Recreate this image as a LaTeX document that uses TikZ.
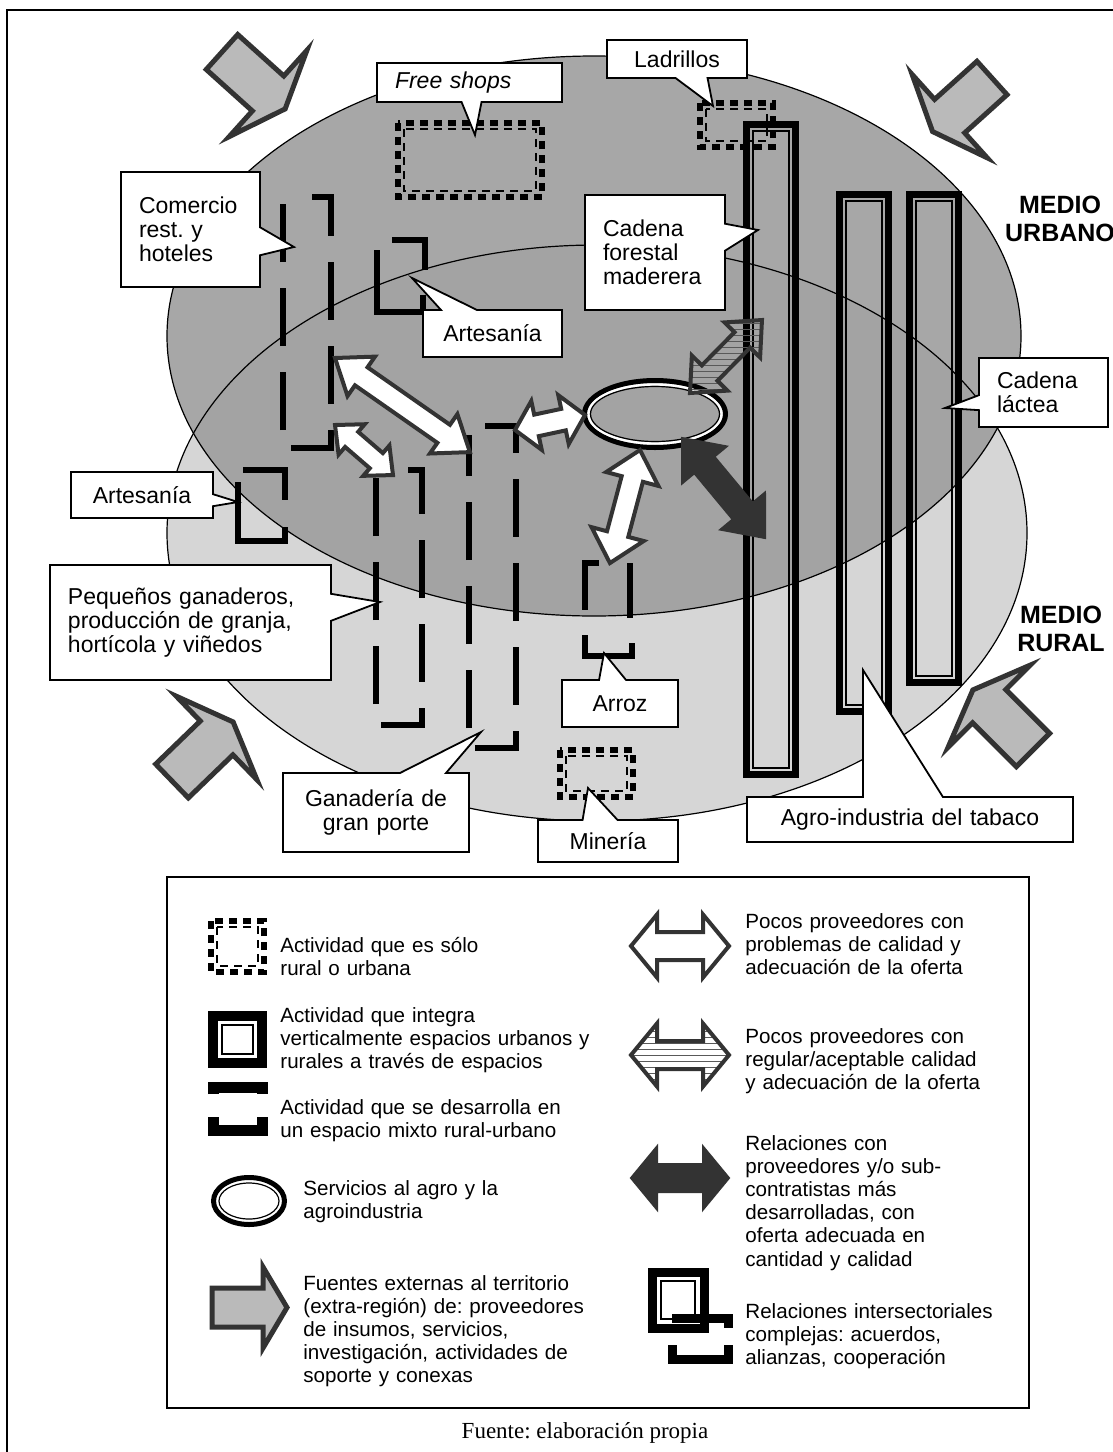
\documentclass[tikz,border=0pt]{standalone}
\usepackage{fontspec}
\setmainfont{Liberation Sans}
\newfontfamily\sourcefont{Liberation Serif}
\usetikzlibrary{shapes.callouts,patterns,positioning}
\tikzset{>=stealth}
\frenchspacing
\colorlet{urbfill}{black!38}
\colorlet{rurfill}{black!16}
\colorlet{arrline}{black!80}
\colorlet{extfill}{black!27}
\newcommand\lblfont{\fontsize{11.5}{12}\selectfont}
\newcommand\legfont{\fontsize{10.3}{11.6}\selectfont}
% activity symbols
\newcommand\ruralurb[4]{%
  \draw[rurb] (#1+3,#2+3) rectangle (#3-3,#4-3);
  \draw[rurbin] (#1+9,#2+9) rectangle (#3-9,#4-9);}
\newcommand\vinteg[4]{%
  \draw[vint] (#1+3.5,#2+3.5) rectangle (#3-3.5,#4-3.5);
  \draw[vintin] (#1+10,#2+10) rectangle (#3-10,#4-10);}
\tikzset{
  lbl/.style={rectangle callout, draw, fill=white, line width=0.9pt, inner xsep=9pt, inner ysep=0pt, align=left, font=\lblfont},
  medio/.style={font=\fontsize{12.5}{14}\selectfont\bfseries, align=center, inner sep=0pt},
  legtxt/.style={anchor=base west, inner sep=0pt, align=left, text width=170pt, font=\legfont},
  zone/.style={line width=0.6pt},
  rurb/.style={line width=3pt, dash pattern=on 4pt off 3pt},
  rurbin/.style={line width=0.6pt, dash pattern=on 4pt off 3pt},
  vint/.style={line width=3.5pt},
  vintin/.style={line width=0.6pt},
  mixd/.style={line width=3.2pt, dash pattern=on 29pt off 13pt},
  mixdsolid/.style={line width=3.2pt},
  extarrow/.style={draw=arrline, fill=extfill, line width=2.5pt, line join=miter},
  whitearr/.style={draw=arrline, fill=white, line width=2pt},
  stripearr/.style={draw=arrline, pattern=horizontal lines, pattern color=black!65, line width=2pt},
  darkarr/.style={draw=arrline, fill=arrline, line width=1pt},
  pics/extarr/.style n args={5}{code={
    \path[#5] (0,-#1) -- (#2,-#1) -- (#2,-#3) -- (#2+#4,0) -- (#2,#3) -- (#2,#1) -- (0,#1) -- cycle;}},
  pics/dblarr/.style n args={5}{code={
    \path[#5] (0,0) -- (#3,#2) -- (#3,#1) -- (#4-#3,#1) -- (#4-#3,#2) -- (#4,0) -- (#4-#3,-#2) -- (#4-#3,-#1) -- (#3,-#1) -- (#3,-#2) -- cycle;}}
}

\begin{document}
\begin{tikzpicture}[x=0.5pt,y=-0.5pt]
\useasboundingbox (0,0) rectangle (1113,1452);
\clip (0,0) rectangle (1113,1452);
\fill[white] (0,0) rectangle (1113,1452);
\draw[line width=0.8pt] (7,10) rectangle (1130,1470);

% urban and rural spaces
\fill[rurfill] (597,533) ellipse [x radius=430, y radius=288];
\fill[urbfill, fill opacity=0.9] (594,336) ellipse [x radius=427, y radius=280];
\draw[zone] (597,533) ellipse [x radius=430, y radius=288];
\draw[zone] (594,336) ellipse [x radius=427, y radius=280];

% external sources
\pic[rotate=-42] at (222,52) {extarr={23.5}{62}{58}{23}{extarrow}};
\pic[rotate=-138] at (992,78) {extarr={22.5}{57}{56}{23}{extarrow}};
\pic[rotate=44] at (172,781) {extarr={23.5}{62}{58}{23}{extarrow}};
\pic[rotate=135] at (1033,750) {extarr={23.5}{62}{58}{23}{extarrow}};

% activities
\ruralurb{395}{120}{545}{200}
\ruralurb{697}{100}{776}{150}
\ruralurb{557}{747}{636}{800}
\vinteg{743}{121}{799}{778}
\vinteg{836}{191}{892}{715}
\vinteg{906}{191}{962}{686}
\draw[mixd] (312,197) -- (331,197) -- (331,448) -- (283,448) -- (283,193);
\draw[mixd] (408,470) -- (422,470) -- (422,725) -- (376,725) -- (376,477);
\draw[mixd] (485,426) -- (516,426) -- (516,748) -- (469,748) -- (469,435);
\draw[mixdsolid] (392,240) -- (425,240) -- (425,270) (423,295) -- (423,312) -- (377,312) -- (377,250);
\draw[mixdsolid] (243,470) -- (285,470) -- (285,500) (285,527) -- (285,541) -- (238,541) -- (238,482);
\draw[mixdsolid] (599,563) -- (585,563) -- (585,610) (630,563) -- (630,618) (585,635) -- (585,656) -- (632,656) -- (632,643);

% services
\draw[line width=2.5pt] (655,414) ellipse [x radius=70.5, y radius=33.5];
\draw[white, line width=1.2pt] (655,414) ellipse [x radius=66.5, y radius=29.5];
\draw[line width=0.6pt] (655,414) ellipse [x radius=64.5, y radius=27.5];

% supplier relations
\pic[rotate=-34.9] at (335,358) {dblarr={11}{24}{32}{164.5}{whitearr}};
\pic[rotate=-40.8] at (335,425) {dblarr={10}{20}{22}{76.6}{whitearr}};
\pic[rotate=12.1] at (515,430) {dblarr={11}{25}{22}{71.6}{whitearr}};
\pic[rotate=-104.9] at (640,450) {dblarr={11}{27}{30}{117}{whitearr}};
\pic[rotate=45.4] at (690,393) {dblarr={11}{25}{28}{102.5}{stripearr}};
\pic[rotate=-50.3] at (682,438) {dblarr={13}{29}{35}{130}{darkarr}};

% labels
\node[lbl, text width=51.5pt, minimum height=57.5pt, callout absolute pointer={(294,247)}, callout pointer width=14pt] (comercio) at (190.5,229.5) {Comercio\\rest. y\\hoteles};
\node[lbl, text width=74.5pt, minimum height=19.5pt, callout absolute pointer={(475,135)}, callout pointer width=10pt] (freeshops) at (469.5,82.5) {\itshape Free shops};
\node[lbl, align=center, text width=52pt, minimum height=19pt, callout absolute pointer={(713,106)}, callout pointer width=16pt] (ladrillos) at (677,59) {Ladrillos};
\node[lbl, text width=52pt, minimum height=57.5pt, callout absolute pointer={(758,230)}, callout pointer width=13.5pt] (forestal) at (655,252.5) {Cadena\\forestal\\maderera};
\node[lbl, align=center, text width=51.5pt, minimum height=23.5pt, callout absolute pointer={(412,278)}, callout pointer width=18pt] (artesaniaA) at (492.5,333.5) {Artesanía};
\node[lbl, text width=46.5pt, minimum height=34.5pt, callout absolute pointer={(945,408)}, callout pointer width=7.5pt] (lactea) at (1043.5,392.5) {Cadena\\láctea};
\node[lbl, align=center, text width=53pt, minimum height=23pt, callout absolute pointer={(238,502)}, callout pointer width=6pt] (artesaniaB) at (142,495) {Artesanía};
\node[lbl, text width=122.5pt, minimum height=57.5pt, callout absolute pointer={(380,602)}, callout pointer width=13.5pt] (pequenos) at (190.5,622.5) {Pequeños ganaderos,\\producción de granja,\\hortícola y viñedos};
\node[lbl, align=center, text width=40pt, minimum height=23.5pt, callout absolute pointer={(604,653)}, callout pointer width=13.5pt] (arroz) at (620,703.5) {Arroz};
\node[lbl, align=center, text width=75pt, minimum height=39.5pt, callout absolute pointer={(481,732)}, callout pointer width=23pt] (ganaderia) at (376,812.5) {Ganadería de\\gran porte};
\node[lbl, align=center, text width=52pt, minimum height=21pt, callout absolute pointer={(588,788)}, callout pointer width=17.5pt] (mineria) at (608,841) {Minería};
\node[lbl, align=center, text width=145pt, minimum height=22.5pt, callout absolute pointer={(863,670)}, callout pointer width=40pt] (tabaco) at (910,819.5) {Agro-industria del tabaco};
\node[medio] (urbano) at (1060,219) {MEDIO\\URBANO};
\node[medio] (rural) at (1061,629) {MEDIO\\RURAL};

% legend
\draw[line width=0.9pt] (167,877) rectangle (1029,1408);
\ruralurb{208}{918}{267}{975}
\draw[line width=5pt] (213,1016) rectangle (262,1063);
\draw[line width=0.8pt] (222,1025) rectangle (253,1054);
\draw[line width=5.5pt] (213,1094) -- (213,1087.5) -- (262,1087.5) -- (262,1094);
\draw[line width=5.5pt] (213,1117) -- (213,1130.5) -- (262,1130.5) -- (262,1117);
\draw[line width=2.5pt] (249,1201) ellipse [x radius=35.5, y radius=23.5];
\draw[line width=0.6pt] (249,1201) ellipse [x radius=30, y radius=18];
\pic at (212,1307.5) {extarr={19.5}{51}{40.5}{24}{extarrow}};
\pic at (631,946) {dblarr={14}{31.5}{26}{98}{whitearr}};
\pic at (631,1055) {dblarr={14}{31.5}{26}{98}{stripearr}};
\pic at (631,1178) {dblarr={14}{31.5}{26}{98}{darkarr}};
\draw[line width=4.5pt] (652,1272) rectangle (704,1328);
\draw[line width=0.7pt] (661,1281) rectangle (695,1319);
\draw[line width=4.5pt] (672,1318) -- (728,1318) -- (728,1328);
\draw[line width=4.5pt] (672,1345) -- (672,1359) -- (728,1359) -- (728,1345);

\node[legtxt] (legA) at (280,952) {Actividad que es sólo\\rural o urbana};
\node[legtxt] (legB) at (280,1022) {Actividad que integra\\verticalmente espacios urbanos y\\rurales a través de espacios};
\node[legtxt] (legC) at (280,1114) {Actividad que se desarrolla en\\un espacio mixto rural-urbano};
\node[legtxt] (legD) at (303,1195) {Servicios al agro y la\\agroindustria};
\node[legtxt] (legE) at (303,1290) {Fuentes externas al territorio\\(extra-región) de: proveedores\\de insumos, servicios,\\investigación, actividades de\\soporte y conexas};
\node[legtxt] (legF) at (745,928) {Pocos proveedores con\\problemas de calidad y\\adecuación de la oferta};
\node[legtxt] (legG) at (745,1043) {Pocos proveedores con\\regular/aceptable calidad\\y adecuación de la oferta};
\node[legtxt] (legH) at (745,1150) {Relaciones con\\proveedores y/o sub-\\contratistas más\\desarrolladas, con\\oferta adecuada en\\cantidad y calidad};
\node[legtxt] (legI) at (745,1318) {Relaciones intersectoriales\\complejas: acuerdos,\\alianzas, cooperación};

\node[anchor=base, inner sep=0pt, font=\sourcefont\fontsize{11.5}{12}\selectfont] (fuente) at (585,1438) {Fuente: elaboración propia};
\end{tikzpicture}
\end{document}
